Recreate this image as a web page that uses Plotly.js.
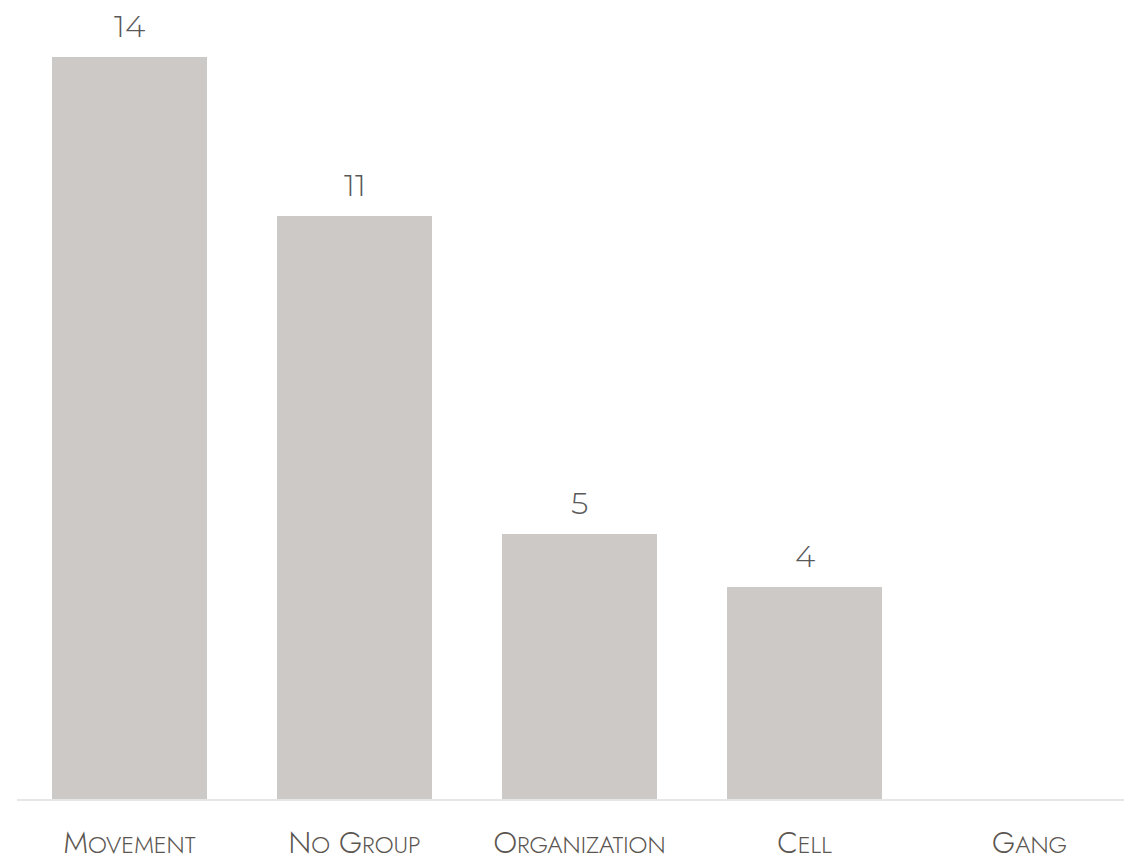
<!DOCTYPE html>
<html>
<head>
<meta charset="utf-8">
<script src="https://cdn.plot.ly/plotly-3.0.1.min.js"></script>
<style>
html,body{margin:0;padding:0;background:#fff;}
#chart{width:1124px;height:855px;}
</style>
</head>
<body>
<div id="chart"></div>
<script>
const categories = ["Movement", "No Group", "Organization", "Cell", "Gang"];
const values = [14, 11, 5, 4, 0];
const valueLabels = ["14", "11", "5", "4", ""];

const barColor = "#cdc9c6";
const numColor = "#595959";
const labelColor = "#5b5651";

// small-caps labels: first letter of each word full size, the rest smaller capitals
function smallCaps(s) {
  return s.split(" ").map(w =>
    w.charAt(0).toUpperCase() +
    (w.length > 1 ? "<span style='font-size:24px'>" + w.slice(1).toUpperCase() + "</span>" : "")
  ).join(" ");
}
const tickText = categories.map(smallCaps);

const trace = {
  type: "bar",
  x: categories,
  y: values,
  marker: {color: barColor},
  width: 0.689,
  hoverinfo: "skip"
};

const annotations = categories.map((c, i) => ({
  x: c, y: values[i], text: valueLabels[i],
  xref: "x", yref: "y", showarrow: false,
  yanchor: "bottom", yshift: 10,
  font: {family: "Montserrat, Lato, 'Noto Sans', sans-serif", size: 31, color: numColor, weight: 300}
})).filter(a => a.text !== "");

const layout = {
  width: 1124, height: 855,
  margin: {l: 17, r: 0, t: 0, b: 56},
  paper_bgcolor: "#ffffff",
  plot_bgcolor: "#ffffff",
  showlegend: false,
  xaxis: {
    type: "category",
    range: [-0.5, 4.42],
    tickmode: "array",
    tickvals: categories,
    ticktext: tickText,
    showgrid: false,
    zeroline: false,
    showline: true,
    linecolor: "#e6e6e6",
    linewidth: 2,
    ticks: "",
    ticklabelstandoff: 16,
    tickfont: {family: "Jost, Lato, 'Noto Sans', sans-serif", size: 30, color: labelColor, weight: 300}
  },
  yaxis: {
    range: [0, 15.075],
    showgrid: false,
    zeroline: false,
    showline: false,
    showticklabels: false,
    ticks: ""
  },
  annotations: annotations
};

Plotly.newPlot("chart", [trace], layout, {staticPlot: true, displayModeBar: false});
</script>
</body>
</html>
